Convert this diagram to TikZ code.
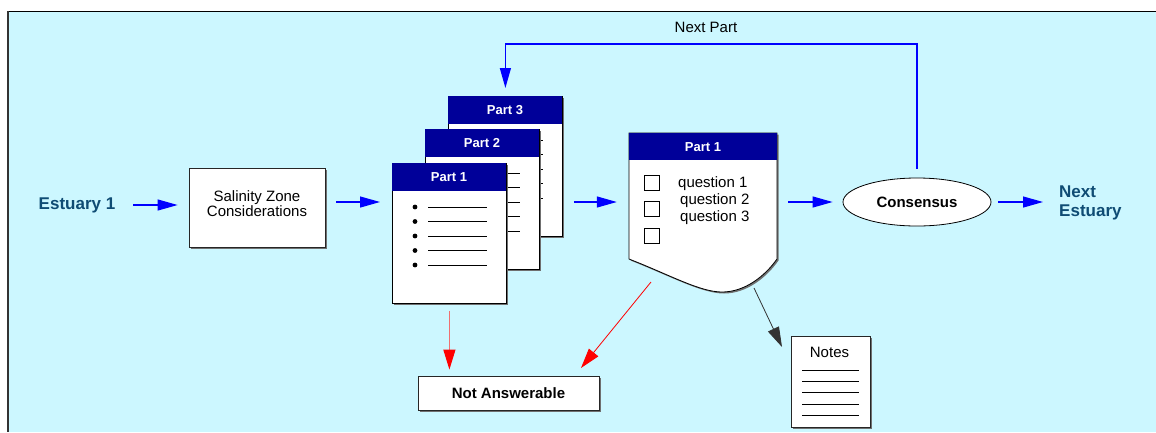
\documentclass[tikz,border=0pt]{standalone}
\usepackage{fontspec}
\setmainfont{Liberation Sans}
\usetikzlibrary{arrows.meta,calc,shapes.geometric}
\definecolor{bgc}{HTML}{CCF7FF}
\definecolor{hdrc}{HTML}{000099}
\definecolor{estc}{HTML}{0F4C74}
\definecolor{shadowc}{HTML}{707070}
\definecolor{arrblue}{HTML}{0000FF}
\definecolor{arrred}{HTML}{FF0000}
\definecolor{arrpink}{HTML}{F07070}
\newcommand\fA{\fontsize{15}{15}\selectfont}
\newcommand\fE{\fontsize{17}{19}\selectfont}
\newcommand\fH{\fontsize{13}{13}\selectfont}
\tikzset{
 barrow/.style={draw=arrblue, line width=1.2pt, -{Triangle[length=20pt,width=11pt]}},
 rarrow/.style={draw=arrred, line width=0.8pt, -{Triangle[length=20pt,width=12pt]}},
 karrow/.style={draw=black!80, line width=0.8pt, -{Triangle[length=20pt,width=12pt]}},
 plainbox/.style={draw=black!85, fill=white, line width=0.8pt, inner sep=0pt},
 txt/.style={inner sep=0pt, font=\fA},
 btxt/.style={inner sep=0pt, font=\fA\bfseries},
 esttxt/.style={inner sep=0pt, font=\fE\bfseries, text=estc},
 hdrtxt/.style={inner sep=0pt, font=\fH\bfseries, text=white},
 docbody/.style={draw=black, fill=white, line width=0.8pt, inner sep=0pt},
}
% name, x, y, label
\newcommand\PartDoc[4]{%
\begin{scope}[shift={(#2,#3)}]
 \fill[shadowc] (1.8,1.8) rectangle (115.8,141.8);
 \node[docbody, anchor=north west, minimum width=114pt, minimum height=140pt] (#1) at (0,0) {};
 \fill[hdrc] (0,0) rectangle (114,28);
 \node[hdrtxt, anchor=base] at (57,18.8) {#4};
 \foreach \k in {0,...,4}{
   \fill (23,44+14.5*\k) circle[radius=2.4pt];
   \draw[line width=0.7pt] (36,44+14.5*\k) -- (95,44+14.5*\k);
 }
\end{scope}}
\begin{document}
\begin{tikzpicture}[x=1pt,y=-1pt]
\useasboundingbox (0,0) rectangle (1156,432);
\fill[bgc] (8,11) rectangle (1156,432);
\draw[black, line width=1pt] (1156,11) -- (8,11);
\draw[black!80, line width=1.8pt] (8,11) -- (8,432);

\coordinate (row) at (0,202);
\coordinate (top) at (0,44);

% Estuary 1
\node[esttxt, anchor=base] (est) at (77,209.5) {Estuary 1};

% Salinity box
\fill[shadowc] (190.5,169.5) rectangle (326.5,248.5);
\node[plainbox, minimum width=136pt, minimum height=79pt] (sal) at (257,207.5) {};
\node[txt, anchor=base] (salA) at (257,201.7) {Salinity Zone};
\node[txt, anchor=base] (salB) at (257,216.7) {Considerations};

% Part documents
\PartDoc{p3}{448}{96}{Part 3}
\PartDoc{p2}{425}{129}{Part 2}
\PartDoc{p1}{392}{163}{Part 1}

% Question document
\path[fill=shadowc] (630.5,134.5) -- (778.5,134.5) -- (778.5,260.5) .. controls (767,277) and (747,293.5) .. (724,293.5) .. controls (702,293.5) and (672,277) .. (630.5,260.5) -- cycle;
\path[draw=black, fill=white, line width=0.8pt] (629,133) -- (777,133) -- (777,259) .. controls (765,276) and (745,292) .. (722,292) .. controls (700,292) and (670,275) .. (629,259) -- cycle;
\node[inner sep=0pt, minimum width=148pt, minimum height=159pt] (q) at (703,212.5) {};
\fill[hdrc] (629,133) rectangle (777,160);
\node[hdrtxt, anchor=base] (qh) at (703,151.8) {Part 1};
\draw[line width=0.8pt] (644,175) rectangle (659,190);
\draw[line width=0.8pt] (644,201) rectangle (659,216);
\draw[line width=0.8pt] (644,228) rectangle (659,243);
\node[txt, anchor=base west] (q1) at (678,187.7) {question 1};
\node[txt, anchor=base west] (q2) at (680,204.7) {question 2};
\node[txt, anchor=base west] (q3) at (680,221.7) {question 3};
\coordinate (qa) at (651,282);
\coordinate (qb) at (754,288);

% Consensus
\node[ellipse, draw=black, fill=white, line width=0.8pt, minimum width=148pt, minimum height=48pt, inner sep=0pt, font=\fA\bfseries] (cons) at (917,202) {Consensus};

% Next Estuary
\node[esttxt, anchor=base west] (ne1) at (1059,197.7) {Next};
\node[esttxt, anchor=base west] (ne2) at (1059,216.7) {Estuary};

% Next Part label
\node[txt, anchor=base] (np) at (706,32.3) {Next Part};

% Not Answerable
\fill[shadowc] (419.5,377.5) rectangle (600.5,411.5);
\node[plainbox, minimum width=181pt, minimum height=34pt, font=\fA\bfseries] (na) at (508.5,393) {Not Answerable};
\coordinate (naR) at (581,368);

% Notes
\fill[shadowc] (792.5,337.5) rectangle (871.5,428.5);
\node[plainbox, minimum width=79pt, minimum height=91pt] (notes) at (830.5,381.5) {};
\node[txt, anchor=base] (notesT) at (829.5,357.3) {Notes};
\foreach \yy in {370,381,392,404,415}{
  \draw[line width=0.6pt] (802,\yy) -- (859,\yy);
}
\coordinate (notesIn) at (782,347);

% Connectors
\draw[barrow, shorten <=18pt, shorten >=11pt] (est.east|-0,205) -- (sal.west|-0,205);
\draw[barrow, shorten <=11pt, shorten >=12pt] (sal.east|-row) -- (p1.west|-row);
\draw[barrow, shorten <=11pt, shorten >=12pt] (p3.east|-row) -- (q.west|-row);
\draw[barrow, shorten <=11pt, shorten >=10pt] (q.east|-row) -- (cons.west|-row);
\draw[barrow, shorten <=7pt, shorten >=16pt] (cons.east) -- (ne1.west|-row);
\draw[barrow, shorten <=9pt, shorten >=8pt] (cons.north) -- (cons.north|-top) -- (p3.north|-top) -- (p3.north);
\draw[draw=arrpink, line width=1.2pt, -{Triangle[length=20pt,width=12pt,color=arrred]}, shorten <=7pt, shorten >=6pt] (p1.south) -- (p1.south|-na.north);
\draw[rarrow] (qa) -- (naR);
\draw[karrow] (qb) -- (notesIn);
\end{tikzpicture}
\end{document}
